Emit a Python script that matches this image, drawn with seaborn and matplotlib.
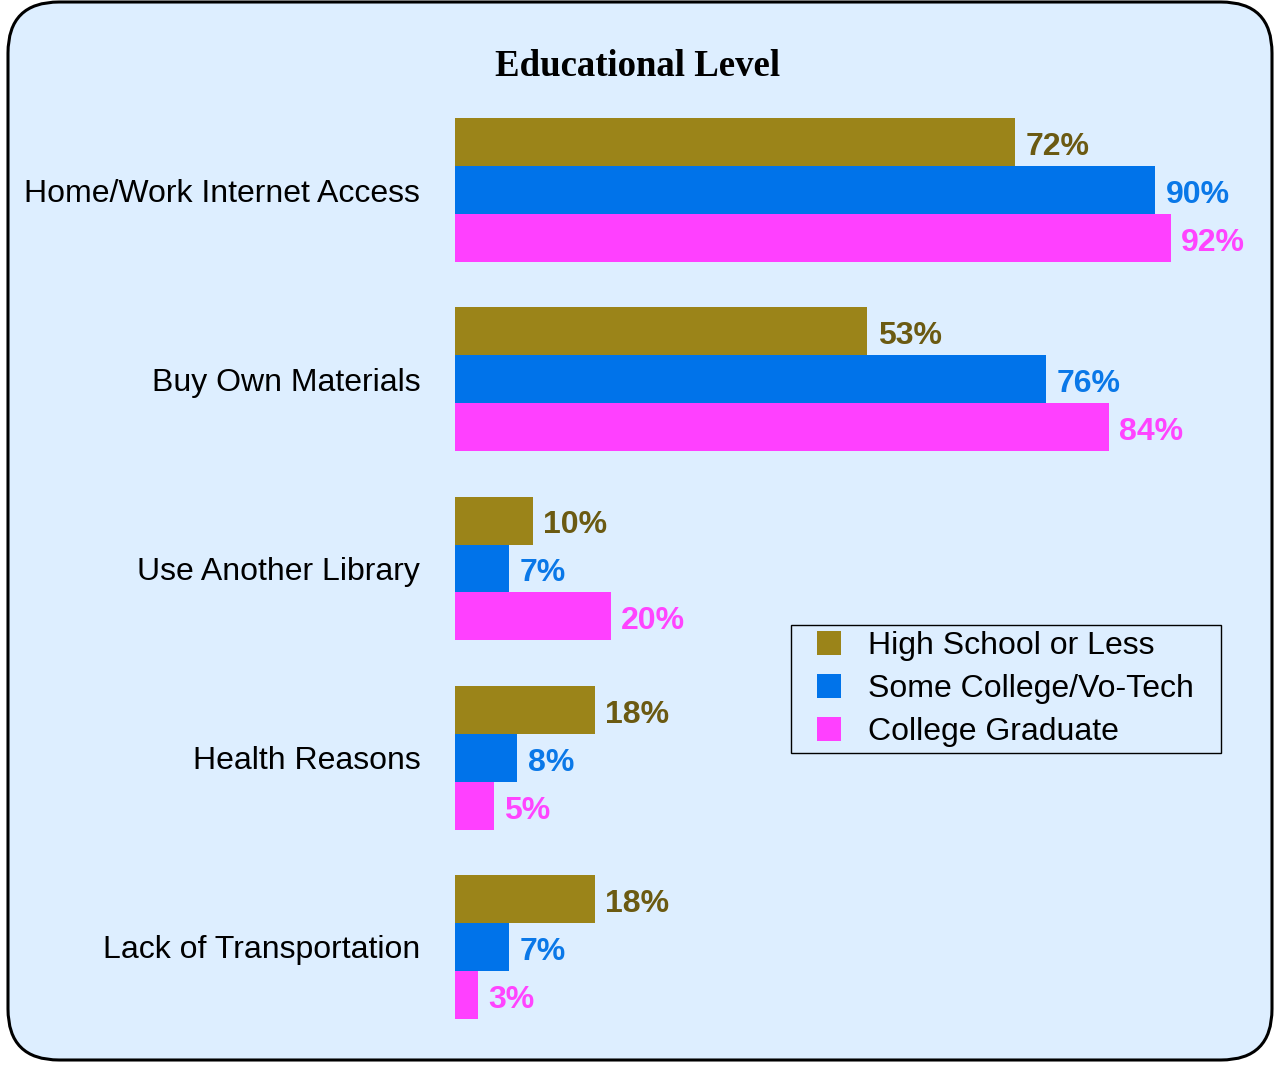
import matplotlib
matplotlib.use("Agg")
import matplotlib.pyplot as plt
import seaborn as sns
import pandas as pd
from matplotlib.patches import FancyBboxPatch
from matplotlib.lines import Line2D

categories = ["Home/Work Internet Access", "Buy Own Materials", "Use Another Library",
              "Health Reasons", "Lack of Transportation"]
groups = ["High School or Less", "Some College/Vo-Tech", "College Graduate"]
high_school = [72, 53, 10, 18, 18]
some_college = [90, 76, 7, 8, 7]
college_grad = [92, 84, 20, 5, 3]

bar_colors = ["#9B8419", "#0073EA", "#FF40FF"]
label_colors = ["#6B5A12", "#0A78E8", "#FF44FF"]
bg = "#DDEEFF"

rows = []
for g, vals in zip(groups, [high_school, some_college, college_grad]):
    for c, v in zip(categories, vals):
        rows.append({"Category": c, "Group": g, "Value": v})
df = pd.DataFrame(rows)

sns.set_theme(style="white")
plt.rcParams['font.family'] = ['Liberation Sans', 'DejaVu Sans']
plt.rcParams['text.color'] = 'black'
plt.rcParams['ytick.color'] = 'black'

W, H = 1276, 1068
fig = plt.figure(figsize=(W / 100, H / 100), dpi=100)
fig.patch.set_facecolor("white")

box = FancyBboxPatch((8 / W, 8 / H), (1264) / W, (1058) / H,
                     boxstyle="round,pad=0,rounding_size=0.04",
                     transform=fig.transFigure, facecolor=bg, edgecolor="black",
                     linewidth=2.2, mutation_aspect=W / H, zorder=-10)
fig.patches.append(box)

ax = fig.add_axes([455 / W, 1 - 1041.6 / H, 778 / W, 946.2 / H])
ax.set_facecolor("none")
ax.set_zorder(1)
sns.barplot(data=df, y="Category", x="Value", hue="Group", order=categories,
            hue_order=groups, palette=bar_colors, orient="h", width=0.76,
            saturation=1, ax=ax, legend=False, linewidth=0)
ax.set_xlim(0, 100)
ax.set_ylim(4.5, -0.5)
for s in ax.spines.values():
    s.set_visible(False)
ax.set_xticks([])
ax.set_xlabel("")
ax.set_ylabel("")
ax.tick_params(axis="y", length=0, pad=25, labelsize=23, labelcolor="black")

for container, col in zip(ax.containers, label_colors):
    for bar in container:
        w = bar.get_width()
        yc = bar.get_y() + bar.get_height() / 2
        ax.annotate(f"{int(round(w))}%", (w, yc), xytext=(7.5, -3.5),
                    textcoords="offset points", va="center", ha="left",
                    fontsize=23, fontweight="bold", color=col)

fig.text(638 / W, 1 - 67 / H, "Educational Level", ha="center", va="center",
         fontsize=26.5, fontweight="bold", color="black",
         family=["Liberation Serif", "DejaVu Serif"])

handles = [Line2D([], [], marker="s", linestyle="none", markersize=17,
                  markerfacecolor=c, markeredgewidth=0) for c in bar_colors]
leg = fig.legend(handles, groups, loc="upper left",
                 bbox_to_anchor=(791 / W, 1 - 748 / H, 430 / W, 123 / H),
                 bbox_transform=fig.transFigure, mode="expand",
                 borderaxespad=0, fontsize=23, frameon=True, fancybox=False,
                 facecolor=bg, edgecolor="black", framealpha=1,
                 handletextpad=0.2, labelspacing=0.40, borderpad=0.2,
                 handlelength=2.0)
leg.get_frame().set_linewidth(1.0)
for t in leg.get_texts():
    t.set_color("black")

fig.savefig("out.png", dpi=100, facecolor="white")
